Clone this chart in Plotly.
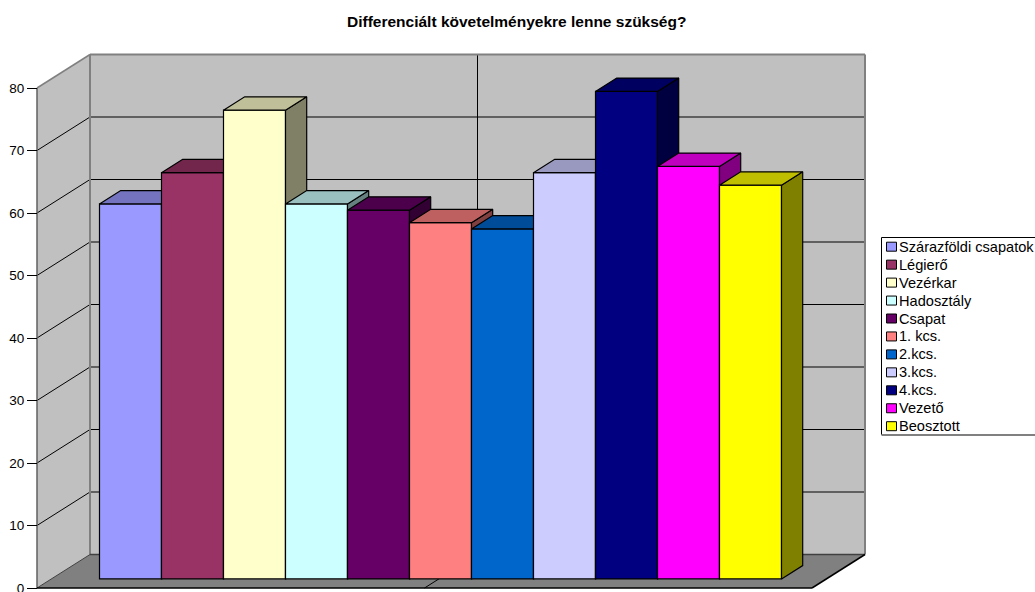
import plotly.graph_objects as go

# Survey results, one bar per respondent group
categories = ["Szárazföldi csapatok", "Légierő", "Vezérkar", "Hadosztály", "Csapat",
              "1. kcs.", "2.kcs.", "3.kcs.", "4.kcs.", "Vezető", "Beosztott"]
values = [60, 65, 75, 60, 59, 57, 56, 65, 78, 66, 63]
colors = ["#9999FF", "#993366", "#FFFFCC", "#CCFFFF", "#660066", "#FF8080",
          "#0066CC", "#CCCCFF", "#000080", "#FF00FF", "#FFFF00"]
y_ticks = [0, 10, 20, 30, 40, 50, 60, 70, 80]
title = "Differenciált követelményekre lenne szükség?"

W, H = 1035, 592

# Axis scales: one x unit is one bar slot, y is in survey units
PX_PER_SLOT = 62.0
PX_PER_VALUE = 6.25
FIRST_BAR_PX = 130.5
ZERO_PX = 588.0
x_range = [-FIRST_BAR_PX / PX_PER_SLOT, (W - FIRST_BAR_PX) / PX_PER_SLOT]
y_range = [(ZERO_PX - H) / PX_PER_VALUE, ZERO_PX / PX_PER_VALUE]


def slot_from_px(px):
    return (px - FIRST_BAR_PX) / PX_PER_SLOT


# Oblique projection of the depth axis
DEPTH_X = 53.0 / PX_PER_SLOT
DEPTH_Y = 33.5 / PX_PER_VALUE
BAR_FRONT = 0.27
BAR_BACK = 0.67
LEFT = slot_from_px(37)
RIGHT = slot_from_px(812)
TOP = y_ticks[-1]


def project(x, y, depth):
    return x + DEPTH_X * depth, y + DEPTH_Y * depth


def poly_path(points):
    return "M " + " L ".join(f"{x},{y}" for x, y in points) + " Z"


def seg(p, q, color, width):
    return dict(type="line", xref="x", yref="y", layer="below",
                x0=p[0], y0=p[1], x1=q[0], y1=q[1], line=dict(color=color, width=width))


def poly(points, fill, line_color="rgba(0,0,0,0)", width=0):
    return dict(type="path", xref="x", yref="y", layer="below", path=poly_path(points),
                fillcolor=fill, line=dict(color=line_color, width=width))


def shade(hex_color, factor):
    r, g, b = (int(hex_color[i:i + 2], 16) for i in (1, 3, 5))
    return f"rgb({round(r * factor)},{round(g * factor)},{round(b * factor)})"


GRID = "#000000"
EDGE = "#808080"
shapes = []

# Walls and floor
back_wall = [project(LEFT, 0, 1), project(RIGHT, 0, 1), project(RIGHT, TOP, 1), project(LEFT, TOP, 1)]
side_wall = [(LEFT, 0), project(LEFT, 0, 1), project(LEFT, TOP, 1), (LEFT, TOP)]
floor = [(LEFT, 0), (RIGHT, 0), project(RIGHT, 0, 1), project(LEFT, 0, 1)]
shapes += [poly(back_wall, "#C0C0C0"), poly(side_wall, "#C0C0C0"), poly(floor, "#808080")]

# Gridlines across both walls
for tick in y_ticks[1:-1]:
    shapes.append(seg((LEFT, tick), project(LEFT, tick, 1), GRID, 1))
    shapes.append(seg(project(LEFT, tick, 1), project(RIGHT, tick, 1), GRID, 1))

# Category divider through the middle of the plot
MID = (LEFT + RIGHT) / 2
shapes.append(seg(project(MID, 0, 1), project(MID, TOP, 1), GRID, 1))
shapes.append(seg((MID, 0), project(MID, 0, 1), GRID, 1))

# Wall outlines
shapes.append(seg((LEFT, TOP), project(LEFT, TOP, 1), EDGE, 1.5))
shapes.append(seg(project(LEFT, TOP, 1), project(RIGHT, TOP, 1), EDGE, 2))
shapes.append(seg(project(LEFT, 0, 1), project(LEFT, TOP, 1), EDGE, 2))
shapes.append(seg(project(RIGHT, 0, 1), project(RIGHT, TOP, 1), EDGE, 2))
shapes.append(seg((LEFT, 0), (LEFT, TOP), "#606060", 1.5))
shapes.append(seg((LEFT, 0), project(LEFT, 0, 1), "#404040", 1))
shapes.append(seg(project(LEFT, 0, 1), project(RIGHT, 0, 1), "#404040", 1.5))
shapes.append(seg((LEFT, 0), (RIGHT, 0), GRID, 1.5))
shapes.append(seg((RIGHT, 0), project(RIGHT, 0, 1), GRID, 1.5))

fig = go.Figure()
base_y = DEPTH_Y * BAR_FRONT
bar_dx = DEPTH_X * (BAR_BACK - BAR_FRONT)
bar_dy = DEPTH_Y * (BAR_BACK - BAR_FRONT)

# Bars are painted left to right so that each one covers its neighbour's side face
for i, (name, value, color) in enumerate(zip(categories, values, colors)):
    x0 = i - 0.5
    x1 = i + 0.5
    top_y = base_y + value
    fig.add_trace(go.Bar(
        x=[i], y=[value], base=[base_y], width=[1.0], name=name, zorder=2 * i + 1,
        marker=dict(color=color, line=dict(color="#000000", width=1.2)),
        hovertemplate=f"{name}: {value}<extra></extra>", showlegend=False,
    ))
    top_face = [(x0, top_y), (x1, top_y), (x1 + bar_dx, top_y + bar_dy), (x0 + bar_dx, top_y + bar_dy), (x0, top_y)]
    side_face = [(x1, base_y), (x1 + bar_dx, base_y + bar_dy), (x1 + bar_dx, top_y + bar_dy), (x1, top_y), (x1, base_y)]
    for face, factor in ((side_face, 0.5), (top_face, 0.75)):
        fig.add_trace(go.Scatter(
            x=[p[0] for p in face], y=[p[1] for p in face], mode="lines", fill="toself",
            fillcolor=shade(color, factor), line=dict(color="#000000", width=1.2),
            zorder=2 * i + 2, showlegend=False, hoverinfo="skip",
        ))

# Legend box with swatches, laid out in page fractions
annotations = [dict(text=f"<b>{title}</b>", x=516.5 / W, y=1 - 21 / H, xref="paper", yref="paper",
                    xanchor="center", yanchor="middle", showarrow=False,
                    font=dict(family="Liberation Sans", size=15.5, color="#000000"))]
BOX_L, BOX_T, BOX_B = 881.5, 237.5, 434.5
ROW0, ROW_STEP = 246.7, 17.95


def page_x(px):
    return px / W


def page_y(py):
    return 1 - py / H


page_shapes = [
    dict(type="rect", xref="paper", yref="paper", x0=page_x(BOX_L), x1=page_x(W + 10),
         y0=page_y(BOX_T), y1=page_y(BOX_B), fillcolor="#FFFFFF", line=dict(color="#000000", width=1)),
    dict(type="line", xref="paper", yref="paper", x0=page_x(BOX_L), x1=page_x(W + 10),
         y0=page_y(BOX_B + 0.5), y1=page_y(BOX_B + 0.5), line=dict(color="#808080", width=2)),
]
for i, (name, color) in enumerate(zip(categories, colors)):
    cy = ROW0 + i * ROW_STEP
    page_shapes.append(dict(type="rect", xref="paper", yref="paper", x0=page_x(886.5), x1=page_x(896.5),
                            y0=page_y(cy - 4.5), y1=page_y(cy + 4.5), fillcolor=color,
                            line=dict(color="#000000", width=1)))
    annotations.append(dict(text=name, x=page_x(897), y=page_y(cy), xref="paper", yref="paper",
                            xanchor="left", yanchor="middle", showarrow=False,
                            font=dict(family="Liberation Sans", size=14.6, color="#000000")))

fig.update_layout(
    width=W, height=H, margin=dict(l=0, r=0, t=0, b=0), autosize=False,
    paper_bgcolor="#FFFFFF", plot_bgcolor="#FFFFFF", showlegend=False, barmode="overlay",
    shapes=shapes + page_shapes, annotations=annotations,
    xaxis=dict(range=x_range, domain=[0, 1], visible=False, fixedrange=True),
    yaxis=dict(range=y_range, domain=[0, 1], anchor="free", position=37 / W, showgrid=False,
               zeroline=False, showline=False, tickmode="array", tickvals=y_ticks,
               ticks="outside", ticklen=10, tickcolor="#000000", tickwidth=1,
               ticklabeloverflow="allow", automargin=False,
               tickfont=dict(family="Liberation Sans", size=13.5, color="#000000"), fixedrange=True),
)

fig.write_html("out.html", config=dict(displayModeBar=False))
